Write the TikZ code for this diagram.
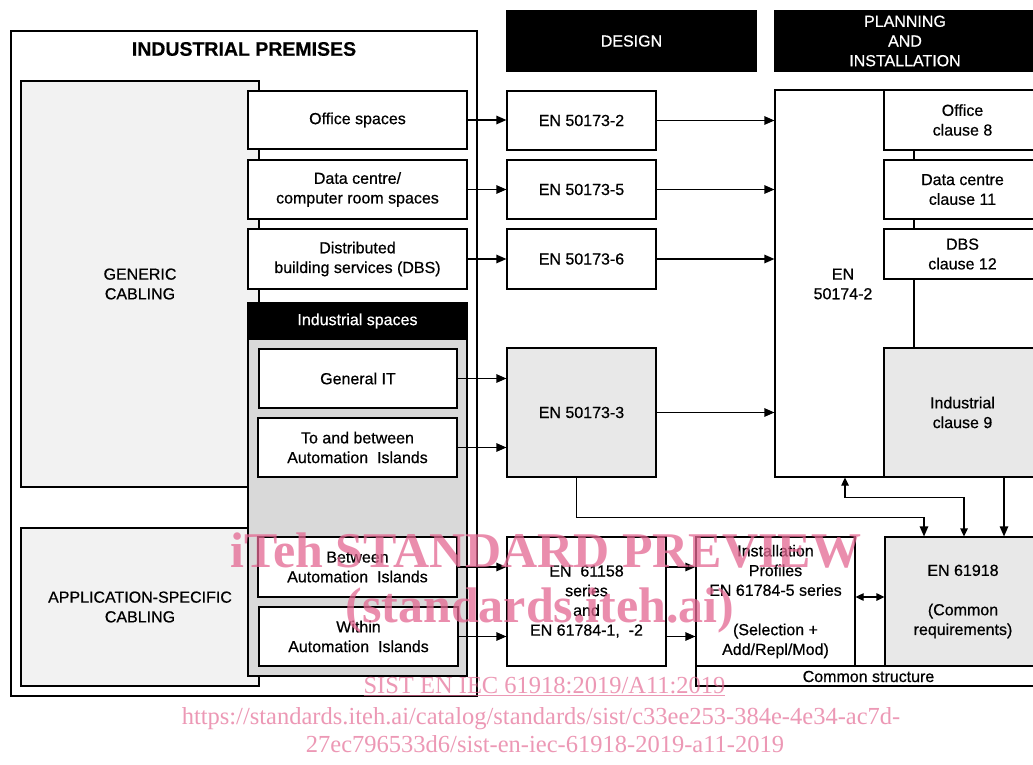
\documentclass[tikz,border=0pt]{standalone}
\usepackage{fontspec}
\setmainfont{Liberation Sans}[FakeBold=0.6]
\newfontfamily\titlefont{Liberation Sans Bold}[FakeBold=0.4]
\newfontfamily\wmfont{Liberation Serif}
\usetikzlibrary{arrows.meta}
\definecolor{genfill}{HTML}{F2F2F2}
\definecolor{indfill}{HTML}{D9D9D9}
\definecolor{stdfill}{HTML}{E8E8E8}
\definecolor{wmpink}{RGB}{228,104,146}
\newcommand\bodyfont{\fontsize{16}{19.7}\selectfont}
\tikzset{
  box/.style={draw, line width=1.2pt, fill=white, inner sep=0pt, align=center, font=\bodyfont},
  hdr/.style={draw, line width=1.2pt, fill=black, text=white, inner sep=0pt, align=center, font=\bodyfont},
  lbl/.style={inner sep=0pt, align=center, font=\bodyfont},
  arr/.style={line width=1.2pt, -{Triangle[length=10pt,width=8.5pt]}},
  darr/.style={line width=1.2pt, {Triangle[length=8pt,width=7.5pt]}-{Triangle[length=8pt,width=7.5pt]}},
  ln/.style={line width=1.2pt},
  wmbig/.style={inner sep=0pt, anchor=base, text=wmpink, text opacity=0.75, font=\wmfont\bfseries\fontsize{50}{55}\selectfont},
  wmsmall/.style={inner sep=0pt, anchor=base, text=wmpink, text opacity=0.68, font=\wmfont\fontsize{24.5}{28}\selectfont}
}
\begin{document}
\begin{tikzpicture}[x=1pt,y=-1pt]
\useasboundingbox (0,0) rectangle (1033,765);
\clip (0,0) rectangle (1033,765);
\fill[white] (0,0) rectangle (1033,765);

% left: industrial premises
\node[box, minimum width=466pt, minimum height=665pt] (prem) at (244,363.5) {};
\node[lbl, font=\titlefont\fontsize{19.5}{22}\selectfont] (premt) at (244,49) {INDUSTRIAL PREMISES};
\node[box, fill=genfill, minimum width=238pt, minimum height=406pt] (gen) at (140,284) {GENERIC\\CABLING};
\node[box, fill=genfill, minimum width=238pt, minimum height=158pt] (app) at (140,607) {APPLICATION-SPECIFIC\\CABLING};
\node[box, minimum width=219pt, minimum height=58pt] (off) at (357.5,120) {Office spaces};
\node[box, minimum width=219pt, minimum height=59pt] (dc) at (357.5,189.5) {Data centre/\\computer room spaces};
\node[box, minimum width=219pt, minimum height=60pt] (dbs) at (357.5,259) {Distributed\\building services (DBS)};
\node[box, fill=indfill, minimum width=219pt, minimum height=373pt] (ind) at (357.5,489.5) {};
\node[hdr, minimum width=219pt, minimum height=36pt] (indh) at (357.5,321) {Industrial spaces};
\node[box, minimum width=198pt, minimum height=59pt] (git) at (358,378.5) {General IT};
\node[box, minimum width=199pt, minimum height=59pt] (tab) at (357.5,447.5) {To and between\\Automation~ Islands};
\node[box, minimum width=199pt, minimum height=60pt] (bai) at (357.5,567) {Between\\Automation~ Islands};
\node[box, minimum width=199pt, minimum height=59pt] (wai) at (358.5,636.5) {Within\\Automation~ Islands};

% headers
\node[hdr, minimum width=249pt, minimum height=60pt] (design) at (631.5,41) {DESIGN};
\node[hdr, minimum width=260pt, minimum height=60pt] (plan) at (905,41) {PLANNING\\AND\\INSTALLATION};

% design column
\node[box, minimum width=149pt, minimum height=59pt] (s2) at (581.5,120.5) {EN 50173-2};
\node[box, minimum width=149pt, minimum height=59pt] (s5) at (581.5,189.5) {EN 50173-5};
\node[box, minimum width=149pt, minimum height=60pt] (s6) at (581.5,259) {EN 50173-6};
\node[box, fill=stdfill, minimum width=149pt, minimum height=129pt] (s3) at (581.5,412.5) {EN 50173-3};

% planning column
\node[box, minimum width=270pt, minimum height=387pt] (p2) at (910,283.5) {};
\node[lbl] (p2t) at (843,284) {EN\\50174-2};
\node[box, minimum width=157pt, minimum height=60pt] (c8) at (962.5,120) {Office\\clause 8};
\node[box, minimum width=157pt, minimum height=59pt] (c11) at (962.5,189.5) {Data centre\\clause 11};
\node[box, minimum width=157pt, minimum height=50pt] (c12) at (962.5,254) {DBS\\clause 12};
\node[box, fill=stdfill, minimum width=157pt, minimum height=129pt] (c9) at (962.5,412.5) {Industrial\\clause 9};
\draw[ln] ([xshift=-48.5pt]c8.south) -- ([xshift=-48.5pt]c8.south |- c11.north);
\draw[ln] ([xshift=-48.5pt]c11.south) -- ([xshift=-48.5pt]c11.south |- c12.north);
\draw[ln] ([xshift=-48.5pt]c12.south) -- ([xshift=-48.5pt]c12.south |- c9.north);

% bottom row
\node[box, minimum width=345pt, minimum height=20pt] (common) at (868.5,676) {};
\node[lbl] (commont) at (868.5,676.5) {Common structure};
\node[box, minimum width=159pt, minimum height=129pt] (e58) at (586.5,601.5) {EN~ 61158\\series\\and\\EN 61784-1,~ -2};
\node[box, minimum width=159pt, minimum height=129pt] (inst) at (775.5,601.5) {Installation\\Profiles\\EN 61784-5 series\\[19.7pt](Selection +\\Add/Repl/Mod)};
\node[box, fill=stdfill, minimum width=156pt, minimum height=129pt] (e18) at (963,601.5) {EN 61918\\[19.7pt](Common\\requirements)};

% connectors
\draw[arr] (off.east) -- (off.east -| s2.west);
\draw[arr] (dc.east) -- (dc.east -| s5.west);
\draw[arr] (dbs.east) -- (dbs.east -| s6.west);
\draw[arr] (s2.east) -- (s2.east -| p2.west);
\draw[arr] (s5.east) -- (s5.east -| p2.west);
\draw[arr] (s6.east) -- (s6.east -| p2.west);
\draw[arr] (git.east) -- (git.east -| s3.west);
\draw[arr] (tab.east) -- (tab.east -| s3.west);
\draw[arr] (s3.east) -- (s3.east -| p2.west);
\draw[arr] ([xshift=-5pt]s3.south) -- ++(0,40) -| ([xshift=-39pt]e18.north);
\draw[darr] ([xshift=-65pt]p2.south) -- ++(0,20) -| ([xshift=1pt]e18.north);
\draw[arr] ([xshift=41.5pt]c9.south) -- ([xshift=41.5pt]c9.south |- e18.north);
\draw[arr] (bai.east) -- (bai.east -| e58.west);
\draw[arr] (wai.east) -- (wai.east -| e58.west);
\draw[arr] (e58.east |- bai.east) -- (inst.west |- bai.east);
\draw[arr] (e58.east |- wai.east) -- (inst.west |- wai.east);
\draw[darr] ([yshift=4.5pt]inst.east) -- ([yshift=4.5pt]inst.east -| e18.west);

% watermark
\node[wmbig] (wm1) at (546,567) {iTeh STANDARD PREVIEW};
\node[wmbig] (wm2) at (540,622) {(standards.iteh.ai)};
\node[wmsmall] (wm3) at (544.5,693) {\underline{SIST EN IEC 61918:2019/A11:2019}};
\node[wmsmall] (wm4) at (541,724) {https://standards.iteh.ai/catalog/standards/sist/c33ee253-384e-4e34-ac7d-};
\node[wmsmall] (wm5) at (545,752) {27ec796533d6/sist-en-iec-61918-2019-a11-2019};
\end{tikzpicture}
\end{document}
